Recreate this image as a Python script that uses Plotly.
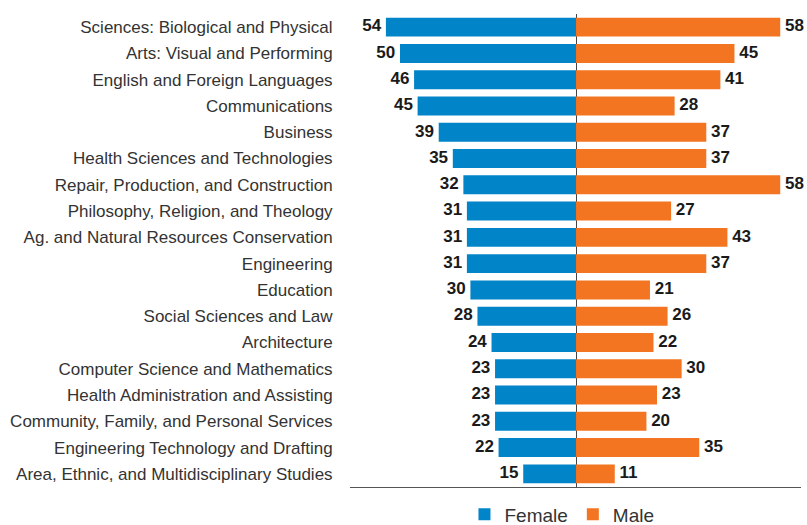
import plotly.graph_objects as go

categories = [
    "Sciences: Biological and Physical",
    "Arts: Visual and Performing",
    "English and Foreign Languages",
    "Communications",
    "Business",
    "Health Sciences and Technologies",
    "Repair, Production, and Construction",
    "Philosophy, Religion, and Theology",
    "Ag. and Natural Resources Conservation",
    "Engineering",
    "Education",
    "Social Sciences and Law",
    "Architecture",
    "Computer Science and Mathematics",
    "Health Administration and Assisting",
    "Community, Family, and Personal Services",
    "Engineering Technology and Drafting",
    "Area, Ethnic, and Multidisciplinary Studies",
]
female = [54, 50, 46, 45, 39, 35, 32, 31, 31, 31, 30, 28, 24, 23, 23, 23, 22, 15]
male = [58, 45, 41, 28, 37, 37, 58, 27, 43, 37, 21, 26, 22, 30, 23, 20, 35, 11]

BLUE = "#0284C8"
ORANGE = "#F37421"
FONT = "Liberation Sans, Arial, sans-serif"
LABEL_FONT = dict(family=FONT, size=17, color="#1a1a1a", weight="bold")

fig = go.Figure()
fig.add_trace(go.Bar(
    y=categories, x=[-v for v in female], orientation="h", name="Female",
    marker=dict(color=BLUE, line=dict(width=0)),
))
fig.add_trace(go.Bar(
    y=categories, x=male, orientation="h", name="Male",
    marker=dict(color=ORANGE, line=dict(width=0)),
))
# value labels
fig.add_trace(go.Scatter(
    y=categories, x=[-v for v in female], mode="text",
    text=[f"{v} " for v in female], textposition="middle left",
    textfont=LABEL_FONT, showlegend=False, cliponaxis=False, hoverinfo="skip",
))
fig.add_trace(go.Scatter(
    y=categories, x=male, mode="text",
    text=[f" {v}" for v in male], textposition="middle right",
    textfont=LABEL_FONT, showlegend=False, cliponaxis=False, hoverinfo="skip",
))

fig.update_layout(
    width=807, height=525,
    margin=dict(l=350, r=6, t=14, b=38, autoexpand=False),
    barmode="relative", bargap=0.28,
    plot_bgcolor="white", paper_bgcolor="white",
    font=dict(family=FONT, color="#333333"),
    showlegend=True,
    legend=dict(orientation="h", x=0.47, xanchor="center", y=-0.058, yanchor="middle",
                font=dict(size=19, color="#333333"), itemwidth=30, traceorder="normal"),
)
fig.update_xaxes(range=[-64.2, 63.9], showgrid=False, showticklabels=False,
                 zeroline=True, zerolinecolor="#444444", zerolinewidth=1,
                 showline=True, linecolor="#555555", linewidth=1, ticks="",
                 fixedrange=True, automargin=False)
fig.update_yaxes(categoryorder="array", categoryarray=categories[::-1], autorange=False,
                 range=[-0.5, len(categories) - 0.5],
                 showgrid=False, showline=False, zeroline=False,
                 ticks="outside", ticklen=13, tickcolor="rgba(0,0,0,0)",
                 tickfont=dict(family=FONT, size=17, color="#333333"), automargin=False)

fig.write_html("out.html", config={"displayModeBar": False},
               post_script="document.body.style.margin='0';document.body.style.padding='0';document.body.style.overflow='hidden';")
